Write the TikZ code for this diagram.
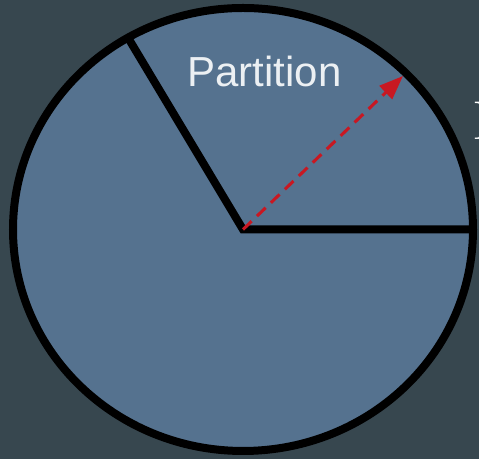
\documentclass[tikz,border=0pt]{standalone}
\usepackage{fontspec}
\newfontfamily\labelfont{Liberation Sans}
\definecolor{pgback}{RGB}{55,71,79}
\definecolor{pgslice}{RGB}{85,114,143}
\definecolor{pgred}{RGB}{200,24,34}
\definecolor{pgtext}{RGB}{236,240,243}
\usetikzlibrary{arrows.meta,positioning,calc}

\begin{document}
\begin{tikzpicture}[x=0.75pt,y=0.75pt,
  rim/.style={line width=6pt,draw=black},
  radius line/.style={pgred,line width=2.3pt,dash pattern=on 9pt off 5.5pt,-{Triangle[length=18pt,width=13.5pt]}}]
  \fill[pgback] (0,0) rectangle (479,459);
  \useasboundingbox (0,0) rectangle (479,459);
  \coordinate (c) at (243,229.5);
  \coordinate (e0) at ($(c)+(230,0)$);
  \coordinate (e1) at ($(c)+({230*cos(120)},{221.5*sin(120)})$);
  \coordinate (tip) at ($(c)+(160,153.5)$);
  \draw[rim,fill=pgslice] (c) ellipse [x radius=230,y radius=221.5];
  \draw[rim] (e1)--(c)--(e0);
  \draw[radius line] (c)--(tip);
  \node[pgtext,anchor=base,inner sep=0,font=\labelfont\fontsize{31.5}{31.5}\selectfont] (part) at (264.5,372) {Partition};
  \node[white,anchor=west,inner sep=0,font=\fontsize{41}{41}\selectfont] (rlab) at (472,338) {R};
\end{tikzpicture}
\end{document}
